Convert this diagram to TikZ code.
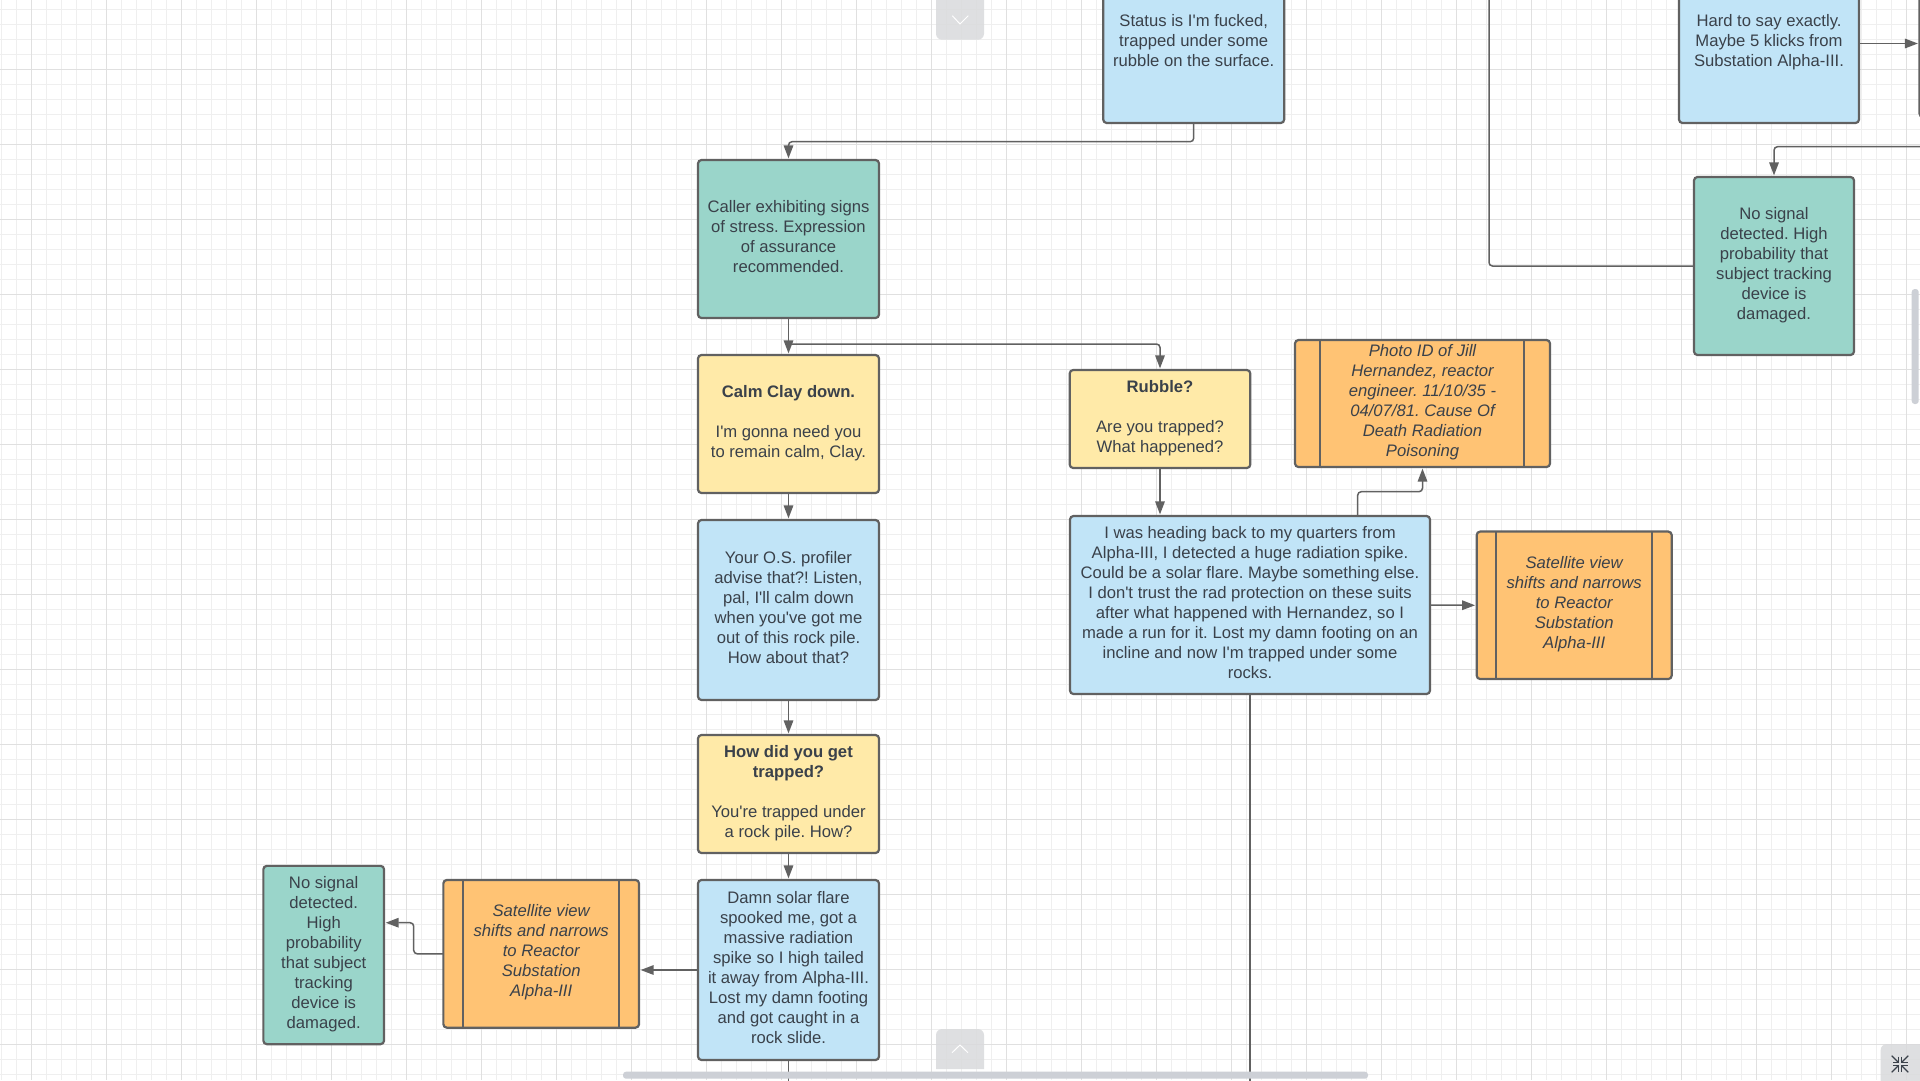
\documentclass[tikz,border=0pt]{standalone}
\usepackage{fontspec}
\setmainfont{Liberation Sans}[Ligatures=TeXOff]
\frenchspacing
\usetikzlibrary{arrows.meta}
\definecolor{skyfill}{HTML}{C1E4F7}
\definecolor{tealfill}{HTML}{9AD5CA}
\definecolor{sandfill}{HTML}{FFEAA8}
\definecolor{amberfill}{HTML}{FFC374}
\definecolor{edgegray}{HTML}{616161}
\definecolor{inkgray}{HTML}{3A414A}
\definecolor{gridminor}{HTML}{EFEFEF}
\definecolor{gridmajor}{HTML}{E0E0E0}
\definecolor{btngray}{HTML}{D9DADC}
\definecolor{barsgray}{HTML}{CDD0D6}
\tikzset{
  flowbox/.style={draw=edgegray,line width=2.2pt,rounded corners=3.5pt,align=center,
    text=inkgray,inner sep=0pt,outer sep=0pt,font=\fontsize{16.65}{20}\selectfont,
    execute at begin node={\rule[-6pt]{0pt}{14pt}},
    execute at end node={\rule[-5.5pt]{0pt}{14pt}}},
  skybox/.style={flowbox,fill=skyfill},
  tealbox/.style={flowbox,fill=tealfill},
  sandbox/.style={flowbox,fill=sandfill},
  amberbox/.style={flowbox,fill=amberfill,font=\fontsize{16.65}{20}\selectfont\itshape},
  sidebar/.style={draw=edgegray,line width=2.2pt},
  conn/.style={draw=edgegray,line width=1.5pt,rounded corners=3.5pt},
  arrowconn/.style={conn,-{Triangle[length=13pt,width=9.5pt,fill=edgegray]},shorten >=1.6pt},
  sizedbox/.style n args={2}{minimum width=#1pt,minimum height=#2pt},
}
\begin{document}
\begin{tikzpicture}[x=1pt,y=-1pt]
\useasboundingbox (0,0) rectangle (1920,1080);
\clip (0,0) rectangle (1920,1080);
\fill[white] (0,0) rectangle (1920,1080);
% grid
\foreach \gx in {0,...,128} {\draw[gridminor,line width=1pt] ({1.7+15*\gx},0) -- ({1.7+15*\gx},1080);}
\foreach \gy in {0,...,72} {\draw[gridminor,line width=1pt] (0,{9.5+15*\gy}) -- (1920,{9.5+15*\gy});}
\foreach \gx in {0,...,25} {\draw[gridmajor,line width=1pt] ({31.7+75*\gx},0) -- ({31.7+75*\gx},1080);}
\foreach \gy in {0,...,14} {\draw[gridmajor,line width=1pt] (0,{69.5+75*\gy}) -- (1920,{69.5+75*\gy});}
% free ends and bends
\coordinate (bendStatus) at (0,141.7);
\coordinate (bendRubble) at (0,344);
\coordinate (bendTopRight) at (1925,146.7);
\coordinate (bendTrack) at (1489,-6);
\coordinate (bendPhotoOut) at (1357.7,516);
\coordinate (bendPhotoMid) at (0,491.7);
\coordinate (bendLeft) at (413.7,922.7);
\coordinate (endBig) at (1250,1086);
\coordinate (endDamn) at (788.5,1086);
% nodes
\node[skybox,sizedbox={181}{159}] (status) at (1193.7,43.5) {Status is I'm fucked,\\trapped under some\\rubble on the surface.};
\node[skybox,sizedbox={180}{159}] (hard) at (1769,43.5) {Hard to say exactly.\\Maybe 5 klicks from\\Substation Alpha-III.};
\node[skybox,sizedbox={80}{240}] (offright) at (1959.5,-3) {};
\node[tealbox,sizedbox={160}{178}] (track) at (1774,266) {No signal\\detected. High\\probability that\\subject tracking\\device is\\damaged.};
\node[tealbox,sizedbox={181}{158}] (caller) at (788.5,239) {Caller exhibiting signs\\of stress. Expression\\of assurance\\recommended.};
\node[sandbox,sizedbox={181}{138}] (calm) at (788.5,424) {\textbf{Calm Clay down.}\\[20pt]I'm gonna need you\\to remain calm, Clay.};
\node[sandbox,sizedbox={180.6}{98}] (rubble) at (1160,419) {\textbf{Rubble?}\\[20pt]Are you trapped?\\What happened?};
\node[amberbox,sizedbox={255}{127}] (photo) at (1422.5,403.5) {Photo ID of Jill\\Hernandez, reactor\\engineer. 11/10/35 -\\04/07/81. Cause Of\\Death Radiation\\Poisoning};
\node[skybox,sizedbox={360}{178}] (big) at (1250,605) {I was heading back to my quarters from\\Alpha-III, I detected a huge radiation spike.\\Could be a solar flare. Maybe something else.\\I don't trust the rad protection on these suits\\after what happened with Hernandez, so I\\made a run for it. Lost my damn footing on an\\incline and now I'm trapped under some\\rocks.};
\node[amberbox,sizedbox={195}{147.5}] (satright) at (1574.2,605.3) {Satellite view\\shifts and narrows\\to Reactor\\Substation\\Alpha-III};
\node[skybox,sizedbox={181}{180}] (profiler) at (788.5,610) {Your O.S. profiler\\advise that?! Listen,\\pal, I'll calm down\\when you've got me\\out of this rock pile.\\How about that?};
\node[sandbox,sizedbox={181}{118}] (how) at (788.5,794) {\textbf{How did you get}\\\textbf{trapped?}\\[20pt]You're trapped under\\a rock pile. How?};
\node[skybox,sizedbox={181}{180}] (damn) at (788.5,970) {Damn solar flare\\spooked me, got a\\massive radiation\\spike so I high tailed\\it away from Alpha-III.\\Lost my damn footing\\and got caught in a\\rock slide.};
\node[amberbox,sizedbox={195.7}{147.7}] (satleft) at (541.2,953.8) {Satellite view\\shifts and narrows\\to Reactor\\Substation\\Alpha-III};
\node[tealbox,sizedbox={120.7}{178.3}] (lost) at (323.7,955) {No signal\\detected.\\High\\probability\\that subject\\tracking\\device is\\damaged.};
% side bars
\draw[sidebar] ([xshift=25.3pt]photo.north west) -- ([xshift=25.3pt]photo.south west);
\draw[sidebar] ([xshift=-25.7pt]photo.north east) -- ([xshift=-25.7pt]photo.south east);
\draw[sidebar] ([xshift=19.6pt]satright.north west) -- ([xshift=19.6pt]satright.south west);
\draw[sidebar] ([xshift=-19.7pt]satright.north east) -- ([xshift=-19.7pt]satright.south east);
\draw[sidebar] ([xshift=19.7pt]satleft.north west) -- ([xshift=19.7pt]satleft.south west);
\draw[sidebar] ([xshift=-20pt]satleft.north east) -- ([xshift=-20pt]satleft.south east);
% connectors
\draw[arrowconn] (status.south) -- (status.south |- bendStatus) -- (caller.north |- bendStatus) -- (caller.north);
\draw[arrowconn] (caller.south) -- (calm.north);
\draw[arrowconn] (caller.south |- bendRubble) -- (rubble.north |- bendRubble) -- (rubble.north);
\draw[arrowconn] (calm.south) -- (profiler.north);
\draw[arrowconn] (profiler.south) -- (how.north);
\draw[arrowconn] (how.south) -- (damn.north);
\draw[arrowconn] (rubble.south) -- (rubble.south |- big.north);
\draw[arrowconn] (big.east) -- (satright.west);
\draw[arrowconn] (bendPhotoOut) -- (bendPhotoOut |- bendPhotoMid) -- (photo.south |- bendPhotoMid) -- (photo.south);
\draw[conn] (big.south) -- (endBig);
\draw[conn] (damn.south) -- (endDamn);
\draw[arrowconn] (damn.west) -- (damn.west -| satleft.east);
\draw[arrowconn] (satleft.west) -- (satleft.west -| bendLeft) -- (bendLeft) -- (bendLeft -| lost.east);
\draw[arrowconn] (hard.east) -- (offright.west |- hard.east);
\draw[arrowconn] (bendTopRight) -- (track.north |- bendTopRight) -- (track.north);
\draw[conn] (track.west) -- (track.west -| bendTrack) -- (bendTrack);
% viewer controls
\fill[btngray,opacity=.85,rounded corners=6pt] (936,-20) rectangle (984,39.7);
\draw[white,line width=1pt] (952.3,15.7) -- (960,24) -- (968.3,15.7);
\fill[btngray,opacity=.85] (936,1069) -- (936,1035) arc[start angle=180,end angle=90,radius=6pt] -- (978,1029) arc[start angle=90,end angle=0,radius=6pt] -- (984,1069) -- cycle;
\draw[white,line width=1pt] (952,1052.7) -- (960,1045) -- (968,1052.7);
\fill[btngray,opacity=.85] (1880.7,1085) -- (1880.7,1050) arc[start angle=180,end angle=90,radius=6pt] -- (1925,1044) -- (1925,1085) -- cycle;
\begin{scope}[draw=inkgray,line width=1.2pt]
\draw (1891.7,1055.7) -- (1898.3,1062.3);
\draw (1898.3,1056.5) -- (1898.3,1062.3) -- (1892.5,1062.3);
\draw (1908.3,1055.7) -- (1901.7,1062.3);
\draw (1901.7,1056.5) -- (1901.7,1062.3) -- (1907.5,1062.3);
\draw (1891.7,1072.3) -- (1898.3,1065.7);
\draw (1898.3,1071.5) -- (1898.3,1065.7) -- (1892.5,1065.7);
\draw (1908.3,1072.3) -- (1901.7,1065.7);
\draw (1901.7,1071.5) -- (1901.7,1065.7) -- (1907.5,1065.7);
\end{scope}
% scrollbars
\fill[barsgray,rounded corners=3pt] (623,1071.7) rectangle (1368,1078.7);
\fill[barsgray,rounded corners=3pt] (1911.7,289) rectangle (1918.7,404);
\end{tikzpicture}
\end{document}
